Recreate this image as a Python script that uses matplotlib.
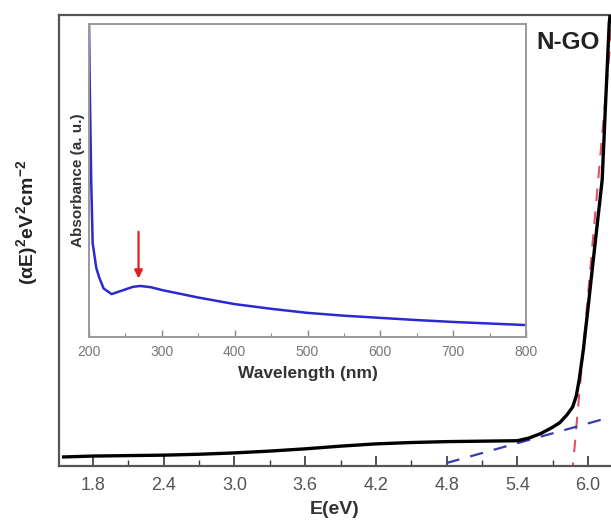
import matplotlib
matplotlib.use("Agg")
import matplotlib.pyplot as plt
from matplotlib.ticker import MultipleLocator

plt.rcParams['font.family'] = ['Liberation Sans', 'DejaVu Sans']
plt.rcParams['mathtext.fontset'] = 'custom'
plt.rcParams['mathtext.rm'] = 'Liberation Sans:bold'
plt.rcParams['mathtext.it'] = 'Liberation Sans:bold'
plt.rcParams['mathtext.bf'] = 'Liberation Sans:bold'

# main Tauc plot
energy = [1.55, 1.8, 2.1, 2.4, 2.7, 3.0, 3.3, 3.6, 3.9, 4.2, 4.5, 4.8, 5.1, 5.4,
          5.5, 5.6, 5.7, 5.76, 5.82, 5.87, 5.9, 5.925, 5.96, 6.0, 6.04, 6.08,
          6.12, 6.15, 6.18, 6.2]
tauc = [2.0, 2.2, 2.3, 2.4, 2.6, 2.9, 3.3, 3.8, 4.4, 4.9, 5.2, 5.4, 5.5, 5.6,
        6.2, 7.2, 8.6, 9.6, 11.3, 13.1, 15.5, 19.1, 25.7, 35.0, 44.6, 54.0,
        63.4, 81.0, 98.2, 103.0]

# fitted tangent lines
red_x = [5.865, 6.21]
red_y = [-2, 100]
blue_x = [4.6, 6.2]
blue_y = [-0.8, 10.9]

# inset absorbance spectrum
wavelength = [200, 201, 203, 205, 210, 214, 220, 231, 245, 260, 270, 285, 300,
              350, 400, 450, 500, 550, 600, 650, 700, 750, 800]
absorb = [100, 80, 50, 30, 22, 19, 15.5, 13.7, 14.8, 16.0, 16.3, 15.9, 15.0,
          12.6, 10.5, 9.0, 7.7, 6.8, 6.1, 5.4, 4.8, 4.3, 3.8]
arrow_nm = 268

fig = plt.figure(figsize=(6.11, 5.30), dpi=100)
ax = fig.add_axes([0.0966, 0.1208, 0.9034, 0.8509])
ax.plot(energy, tauc, color='black', lw=2.4, zorder=3)
ax.plot(red_x, red_y, color='#e0506a', lw=1.5, ls=(0, (6, 5)), zorder=2)
ax.plot(blue_x, blue_y, color='#3a3ab0', lw=1.6, ls=(0, (6, 5)), zorder=2)

ax.set_xlim(1.511, 6.195)
ax.set_ylim(0, 100)
ax.set_yticks([])
ax.xaxis.set_minor_locator(MultipleLocator(0.3))
ax.set_xticks([1.8, 2.4, 3.0, 3.6, 4.2, 4.8, 5.4, 6.0])
ax.set_xticklabels(['1.8', '2.4', '3.0', '3.6', '4.2', '4.8', '5.4', '6.0'])
ax.tick_params(axis='x', which='major', direction='in', length=7, width=1.2,
               color='#333333', labelsize=13, labelcolor='#555555', pad=8)
ax.tick_params(axis='x', which='minor', direction='in', length=4, width=1.0,
               color='#333333')
for s in ['top', 'left', 'bottom']:
    ax.spines[s].set_color('#555555')
    ax.spines[s].set_linewidth(1.6)
ax.spines['right'].set_visible(False)

ax.set_xlabel('E(eV)', fontsize=14, fontweight='bold', color='#333333', labelpad=5)
ax.set_ylabel(r'$(\alpha E)^2 eV^2 cm^{-2}$', fontsize=14, color='#222222')
ax.yaxis.set_label_coords(-0.034, 0.54)
ax.text(5.83, 93.8, 'N-GO', fontsize=17.5, fontweight='bold', color='#222222',
        ha='center', va='center')

ins = fig.add_axes([0.1457, 0.3642, 0.7152, 0.5906])
ins.plot(wavelength, absorb, color='#2a2ad0', lw=1.8)
ins.annotate('', xy=(arrow_nm, 17.8), xytext=(arrow_nm, 34.5),
             arrowprops=dict(arrowstyle='-|>', color='#e02020', lw=1.6,
                             mutation_scale=12))
ins.set_xlim(200, 800)
ins.set_ylim(0, 100)
ins.set_yticks([])
ins.xaxis.set_major_locator(MultipleLocator(100))
ins.xaxis.set_minor_locator(MultipleLocator(50))
ins.tick_params(axis='x', which='major', direction='in', length=5, width=1.0,
                color='#888888', labelsize=10, labelcolor='#777777', pad=6)
ins.tick_params(axis='x', which='minor', direction='in', length=3, width=0.8,
                color='#888888')
for s in ins.spines.values():
    s.set_color('#999999')
    s.set_linewidth(1.4)
ins.set_xlabel('Wavelength (nm)', fontsize=12.5, fontweight='bold', color='#333333',
               labelpad=5)
ins.set_ylabel('Absorbance (a. u.)', fontsize=11, fontweight='bold', color='#333333',
               labelpad=3)

fig.savefig('out.png', dpi=100)
